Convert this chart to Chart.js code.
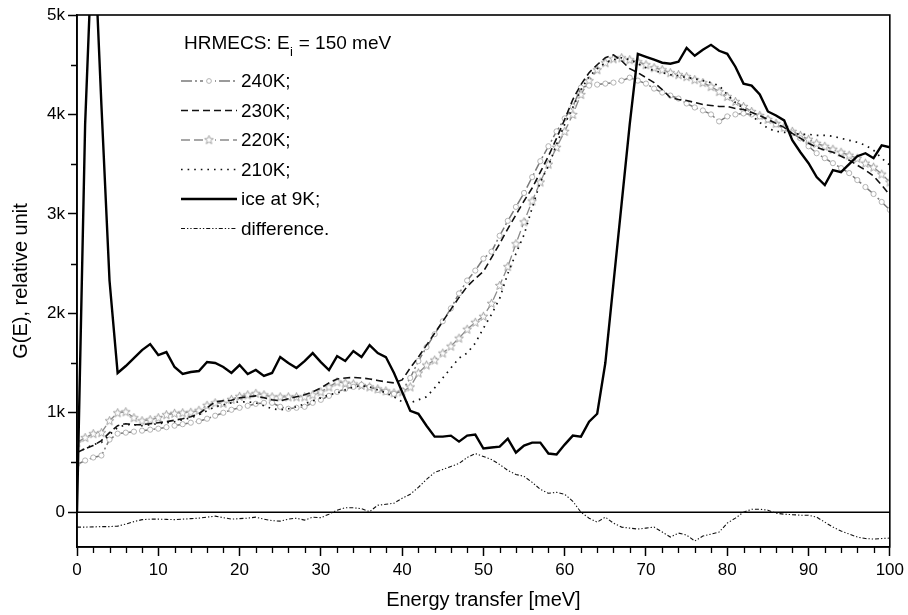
<!DOCTYPE html>
<html><head><meta charset="utf-8">
<script src="https://cdn.jsdelivr.net/npm/chart.js@4/dist/chart.umd.min.js"></script>
<style>html,body{margin:0;padding:0;background:#fff}#wrap{width:908px;height:615px}</style>
</head><body><div id="wrap"><canvas id="c" width="908" height="615"></canvas></div>
<script>
const energy = [0,1,2,3,4,5,6,7,8,9,10,11,12,13,14,15,16,17,18,19,20,21,22,23,24,25,26,27,28,29,30,31,32,33,34,35,36,37,38,39,40,41,42,43,44,45,46,47,48,49,50,51,52,53,54,55,56,57,58,59,60,61,62,63,64,65,66,67,68,69,70,71,72,73,74,75,76,77,78,79,80,81,82,83,84,85,86,87,88,89,90,91,92,93,94,95,96,97,98,99,100];

const ice9K = [0,3900,6000,4100,2330,1400,1470,1550,1630,1690,
 1580,1610,1460,1390,1410,1420,1510,1500,1460,1400,
 1480,1390,1430,1370,1400,1560,1500,1450,1520,1600,
 1510,1430,1570,1520,1620,1560,1680,1600,1560,1400,
 1210,1020,990,870,760,760,770,710,770,780,
 640,650,660,740,600,670,700,700,590,580,
 680,770,760,910,990,1500,2300,3100,3900,4610,
 4580,4550,4520,4510,4530,4670,4590,4650,4700,4640,
 4610,4480,4310,4290,4200,4030,3990,3940,3740,3620,
 3510,3370,3290,3440,3420,3500,3580,3610,3560,3690,
 3670];

const k240 = [480,520,550,570,730,790,800,810,820,830,
 840,855,870,885,900,915,940,970,1000,1030,
 1050,1070,1090,1100,1100,1060,1040,1050,1060,1100,
 1130,1170,1210,1240,1260,1280,1260,1230,1210,1190,
 1220,1350,1520,1660,1790,1920,2050,2200,2330,2430,
 2550,2620,2780,2930,3070,3210,3370,3530,3680,3830,
 3960,4080,4270,4290,4300,4310,4320,4340,4370,4340,
 4310,4260,4220,4190,4160,4110,4070,4040,4000,3930,
 3980,4000,4010,4000,3980,3950,3900,3860,3810,3760,
 3680,3610,3560,3510,3460,3410,3340,3270,3200,3120,
 3040];

const k230 = [600,640,670,720,800,870,890,880,880,890,
 900,910,925,940,960,990,1050,1110,1120,1125,
 1150,1160,1170,1150,1130,1120,1140,1160,1180,1210,
 1250,1300,1340,1350,1355,1350,1340,1325,1310,1300,
 1330,1450,1560,1680,1800,1920,2040,2160,2270,2350,
 2420,2560,2700,2850,2990,3130,3260,3420,3580,3760,
 3950,4150,4300,4420,4500,4570,4600,4540,4460,4420,
 4370,4320,4250,4170,4150,4140,4120,4100,4090,4080,
 4080,4060,4050,4020,3990,3950,3910,3870,3810,3760,
 3710,3670,3640,3620,3580,3540,3490,3440,3380,3290,
 3190];

const k220 = [700,750,790,800,920,1000,1010,950,920,930,
 950,980,995,1000,1005,1025,1075,1100,1095,1135,
 1165,1180,1195,1180,1160,1160,1160,1160,1160,1180,
 1210,1260,1310,1300,1290,1275,1260,1240,1220,1200,
 1210,1260,1400,1480,1530,1600,1670,1750,1840,1910,
 1970,2100,2280,2470,2700,2920,3130,3320,3500,3670,
 3830,4000,4200,4340,4450,4520,4560,4570,4550,4530,
 4500,4470,4450,4420,4400,4380,4350,4320,4280,4230,
 4180,4130,4080,4030,3990,3950,3910,3870,3830,3790,
 3750,3710,3680,3650,3620,3590,3560,3510,3470,3400,
 3320];

const k210 = [600,640,680,700,780,850,880,880,870,880,
 890,900,910,930,950,980,1020,1060,1080,1100,
 1110,1110,1100,1070,1040,1030,1040,1060,1090,1120,
 1150,1180,1200,1230,1260,1270,1260,1230,1200,1160,
 1110,1100,1130,1160,1250,1350,1450,1550,1600,1700,
 1850,1990,2150,2400,2600,2790,3060,3320,3480,3700,
 3900,4070,4250,4380,4460,4520,4550,4570,4550,4510,
 4470,4440,4420,4400,4390,4370,4360,4340,4320,4290,
 4200,4120,4060,3990,3920,3860,3830,3820,3810,3800,
 3800,3790,3790,3780,3760,3740,3720,3690,3640,3560,
 3490];

const difference = [-150,-150,-148,-145,-145,-140,-120,-95,-75,-70,
 -70,-72,-75,-70,-65,-60,-50,-40,-55,-70,
 -65,-60,-50,-70,-85,-90,-70,-60,-80,-50,
 -55,-20,20,45,45,35,5,70,80,90,
 140,180,250,330,400,430,460,490,550,590,
 560,530,480,420,380,360,300,230,190,200,
 180,110,0,-60,-100,-50,-110,-150,-160,-170,
 -160,-150,-200,-250,-210,-230,-290,-240,-220,-200,
 -110,-60,0,30,30,20,-10,-20,-25,-30,
 -30,-50,-100,-150,-190,-220,-250,-265,-270,-265,
 -260];

const xTickValues = [0,2,4,6,8,10,12,14,16,18,20,22,24,26,28,30,32,34,36,38,40,42,44,46,48,50,52,54,56,58,60,62,64,66,68,70,72,74,76,78,80,82,84,86,88,90,92,94,96,98,100];
const xMajorLabels = {0:'0',10:'10',20:'20',30:'30',40:'40',50:'50',60:'60',70:'70',80:'80',90:'90',100:'100'};
const yTickValues = [0,500,1000,1500,2000,2500,3000,3500,4000,4500,5000];
const yMajorLabels = {0:'0',1000:'1k',2000:'2k',3000:'3k',4000:'4k',5000:'5k'};

const seriesNames = ['240K;','230K;','220K;','210K;','ice at 9K;','difference.'];
const legendTitle = ['HRMECS: E','i',' = 150 meV'];

const FONT = '"Liberation Sans", Arial, sans-serif';

function pts(arr){ return energy.map((e,i)=>({x:e,y:arr[i]})); }

// open five-point star marker
function makeStar(){
  const c = document.createElement('canvas'); c.width = 11; c.height = 11;
  const g = c.getContext('2d');
  g.strokeStyle = '#9a9a9a'; g.lineWidth = 0.9; g.fillStyle = '#fff';
  g.beginPath();
  for (let k=0;k<10;k++){
    const r = k%2===0 ? 4.6 : 2.0;
    const a = -Math.PI/2 + k*Math.PI/5;
    const px = 5.5 + r*Math.cos(a), py = 5.8 + r*Math.sin(a);
    if(k===0) g.moveTo(px,py); else g.lineTo(px,py);
  }
  g.closePath(); g.fill(); g.stroke();
  return c;
}
const starImg = makeStar();

const styles = {
  k240: {color:'#7a7a7a', dash:[11,3,2,3], width:1.5},
  k230: {color:'#111', dash:[7,4], width:1.6},
  k220: {color:'#8a8a8a', dash:[9,4], width:1.3},
  k210: {color:'#111', dash:[1.6,5], width:1.7},
  ice:  {color:'#000', dash:[], width:2.4},
  diff: {color:'#111', dash:[4,2,1.3,2,1.3,2], width:1.1}
};

const datasets = [
  {label:seriesNames[4], data:pts(ice9K), borderColor:styles.ice.color, borderWidth:styles.ice.width, borderDash:styles.ice.dash, pointRadius:0},
  {label:seriesNames[1], data:pts(k230), borderColor:styles.k230.color, borderWidth:styles.k230.width, borderDash:styles.k230.dash, pointRadius:0},
  {label:seriesNames[3], data:pts(k210), borderColor:styles.k210.color, borderWidth:styles.k210.width, borderDash:styles.k210.dash, pointRadius:0},
  {label:seriesNames[0], data:pts(k240), borderColor:styles.k240.color, borderWidth:styles.k240.width, borderDash:styles.k240.dash,
    pointStyle:'circle', pointRadius:2.6, pointBorderColor:'#ababab', pointBackgroundColor:'#fff', pointBorderWidth:0.9},
  {label:seriesNames[2], data:pts(k220), borderColor:styles.k220.color, borderWidth:styles.k220.width, borderDash:styles.k220.dash,
    pointStyle:starImg, pointRadius:4},
  {label:seriesNames[5], data:pts(difference), borderColor:styles.diff.color, borderWidth:styles.diff.width, borderDash:styles.diff.dash, pointRadius:0}
];

const decor = {
  id:'decor',
  beforeDatasetsDraw(chart){
    const {ctx, chartArea:a, scales:{y}} = chart;
    const y0 = y.getPixelForValue(0);
    ctx.save(); ctx.strokeStyle='#000'; ctx.lineWidth=1.6;
    ctx.beginPath(); ctx.moveTo(a.left,y0); ctx.lineTo(a.right,y0); ctx.stroke(); ctx.restore();
  },
  afterDatasetsDraw(chart){
    const {ctx, chartArea:a, scales:{x,y}} = chart;
    ctx.save();
    ctx.strokeStyle='#000'; ctx.lineWidth=1.6;
    ctx.strokeRect(a.left, a.top, a.right-a.left, a.bottom-a.top);
    // minor ticks
    ctx.lineWidth=1.3;
    ctx.beginPath();
    yTickValues.forEach(v=>{ if(!(v in yMajorLabels)){ const py=Math.round(y.getPixelForValue(v))+0.5; ctx.moveTo(a.left-6,py); ctx.lineTo(a.left,py);} });
    xTickValues.forEach(v=>{ if(!(v in xMajorLabels)){ const px=Math.round(x.getPixelForValue(v))+0.5; ctx.moveTo(px,a.bottom); ctx.lineTo(px,a.bottom+6);} });
    ctx.stroke();

    // legend
    const lx0 = a.left + 104, lx1 = a.left + 160, tx = a.left + 164;
    ctx.fillStyle='#000';
    ctx.textBaseline='middle';
    ctx.font = '19px ' + FONT;
    let ty = a.top + 29;
    let cx = a.left + 107;
    ctx.fillText(legendTitle[0], cx, ty); cx += ctx.measureText(legendTitle[0]).width;
    ctx.font = '13px ' + FONT; ctx.fillText(legendTitle[1], cx+0.5, ty+8); cx += ctx.measureText(legendTitle[1]).width + 1;
    ctx.font = '19px ' + FONT; ctx.fillText(legendTitle[2], cx, ty);
    const rows = [
      {s:styles.k240, name:seriesNames[0], marker:'circle'},
      {s:styles.k230, name:seriesNames[1]},
      {s:styles.k220, name:seriesNames[2], marker:'star'},
      {s:styles.k210, name:seriesNames[3]},
      {s:styles.ice, name:seriesNames[4]},
      {s:styles.diff, name:seriesNames[5]}
    ];
    rows.forEach((r,i)=>{
      const yy = a.top + 66 + i*29.5;
      ctx.save();
      ctx.strokeStyle=r.s.color; ctx.lineWidth=r.s.width; ctx.setLineDash(r.s.dash);
      ctx.beginPath(); ctx.moveTo(lx0,yy); ctx.lineTo(lx1,yy); ctx.stroke();
      ctx.restore();
      const mx=(lx0+lx1)/2;
      if(r.marker==='circle'){ ctx.save(); ctx.fillStyle='#fff'; ctx.fillRect(mx-6,yy-3,12,6); ctx.strokeStyle='#ababab'; ctx.lineWidth=0.9; ctx.beginPath(); ctx.arc(mx,yy,2.4,0,Math.PI*2); ctx.stroke(); ctx.restore(); }
      if(r.marker==='star'){ ctx.save(); ctx.fillStyle='#fff'; ctx.fillRect(mx-6,yy-4,12,8); ctx.drawImage(starImg, mx-5.5, yy-5.8); ctx.restore(); }
      ctx.fillStyle='#000'; ctx.font='19px ' + FONT;
      ctx.fillText(r.name, tx, yy+1);
    });
    ctx.restore();
  }
};

new Chart(document.getElementById('c'), {
  type:'line',
  data:{datasets},
  options:{
    responsive:false, animation:false, devicePixelRatio:1,
    layout:{padding:{top:15,right:16,left:0,bottom:0}},
    plugins:{legend:{display:false}, tooltip:{enabled:false}},
    elements:{line:{tension:0}},
    scales:{
      x:{type:'linear', min:0, max:100,
        afterBuildTicks(s){ s.ticks = xTickValues.map(v=>({value:v})); },
        afterFit(s){ s.height = 68; },
        ticks:{autoSkip:false, maxRotation:0, padding:4, color:'#000', font:{family:FONT,size:17},
          callback:(v)=> (v in xMajorLabels) ? xMajorLabels[v] : ''},
        grid:{display:true, drawOnChartArea:false, drawTicks:true, tickLength:9, tickWidth:1.5,
          tickColor:(c)=> (c.tick && (c.tick.value in xMajorLabels)) ? '#000' : 'rgba(0,0,0,0)'},
        border:{display:true, color:'#000', width:1.6},
        title:{display:true, text:'Energy transfer [meV]', color:'#000', font:{family:FONT,size:20}, padding:{top:0,bottom:3}}
      },
      y:{type:'linear', min:-350, max:5000,
        afterBuildTicks(s){ s.ticks = yTickValues.map(v=>({value:v})); },
        afterFit(s){ s.width = 77; },
        ticks:{autoSkip:false, padding:3, color:'#000', font:{family:FONT,size:17},
          callback:(v)=> (v in yMajorLabels) ? yMajorLabels[v] : ''},
        grid:{display:true, drawOnChartArea:false, drawTicks:true, tickLength:9, tickWidth:1.5,
          tickColor:(c)=> (c.tick && (c.tick.value in yMajorLabels)) ? '#000' : 'rgba(0,0,0,0)'},
        border:{display:true, color:'#000', width:1.6},
        title:{display:true, text:'G(E), relative unit', color:'#000', font:{family:FONT,size:20}, padding:{top:9,bottom:0}}
      }
    }
  },
  plugins:[decor]
});
</script></body></html>
